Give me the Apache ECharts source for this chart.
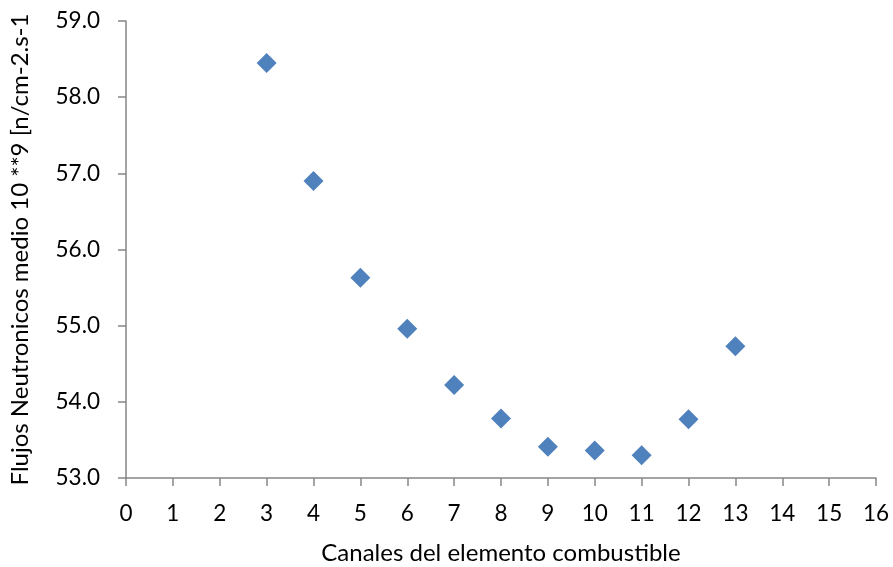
<!DOCTYPE html>
<html>
<head>
<meta charset="utf-8">
<script src="https://cdn.jsdelivr.net/npm/echarts@6/dist/echarts.min.js"></script>
<style>
html,body{margin:0;padding:0;background:#fff;}
#chart{width:893px;height:567px;}
</style>
</head>
<body>
<div id="chart"></div>
<script>
// Fuel element channels and mean neutron flux (10^9 n/cm2.s)
const canales = [3, 4, 5, 6, 7, 8, 9, 10, 11, 12, 13];
const flujos = [58.45, 56.90, 55.63, 54.96, 54.22, 53.78, 53.41, 53.36, 53.30, 53.77, 54.73];

const xTitle = 'Canales del elemento combustible';
const yTitle = 'Flujos Neutronicos medio 10 **9 [n/cm-2.s-1';

const font = 'Lato, "Open Sans", sans-serif';
const axisGray = '#868686';

const chart = echarts.init(document.getElementById('chart'), null, {renderer: 'canvas'});
chart.setOption({
  animation: false,
  backgroundColor: '#fff',
  grid: {left: 126, right: 17, top: 21, bottom: 89, containLabel: false, outerBoundsMode: 'none'},
  xAxis: {
    type: 'value', min: 0, max: 16, interval: 1,
    name: xTitle, nameLocation: 'middle', nameGap: 63,
    nameTextStyle: {fontFamily: font, fontSize: 24, color: '#000'},
    axisLine: {show: true, onZero: false, lineStyle: {color: axisGray, width: 1.5}},
    axisTick: {show: true, length: 8, lineStyle: {color: axisGray, width: 1.5}},
    axisLabel: {fontFamily: font, fontSize: 22.5, color: '#000', margin: 24},
    splitLine: {show: false}
  },
  yAxis: {
    type: 'value', min: 53, max: 59, interval: 1,
    name: yTitle, nameLocation: 'middle', nameGap: 94,
    nameTextStyle: {fontFamily: font, fontSize: 24, color: '#000'},
    axisLine: {show: true, onZero: false, lineStyle: {color: axisGray, width: 1.5}},
    axisTick: {show: true, length: 8, lineStyle: {color: axisGray, width: 1.5}},
    axisLabel: {fontFamily: font, fontSize: 22.5, color: '#000', margin: 26,
      formatter: v => v.toFixed(1)},
    splitLine: {show: false}
  },
  series: [{
    type: 'scatter',
    data: canales.map((c, i) => [c, flujos[i]]),
    symbol: 'diamond',
    symbolSize: [20, 20],
    itemStyle: {color: '#4F81BD', opacity: 1}
  }]
});
</script>
</body>
</html>
